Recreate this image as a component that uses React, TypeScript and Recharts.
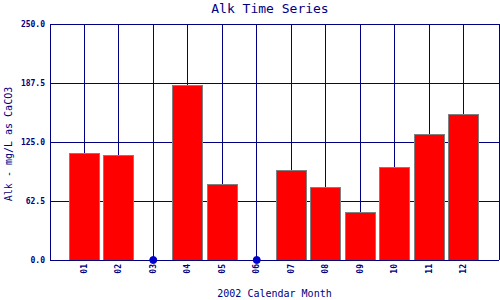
import React from "react";
import {
  ComposedChart,
  Bar,
  Line,
  XAxis,
  YAxis,
  CartesianGrid,
  Label,
} from "recharts";

const months = ["01", "02", "03", "04", "05", "06", "07", "08", "09", "10", "11", "12"];
// null = no sample that month (plotted as a dot on the zero line)
const alk = [113, 111, null, 185, 80, null, 94.3, 77, 50.5, 97.5, 133, 154.3];
const yTicks = [0, 62.5, 125, 187.5, 250];

const NAVY = "#000080";
const FONT = "'DejaVu Sans Mono', 'Liberation Mono', monospace";

const data = months.map((m, i) => ({
  month: m,
  alk: alk[i],
  missing: alk[i] == null ? 0 : null,
}));

function MonthTick({ x, y, payload }: any) {
  const ty = y + 4;
  return (
    <text
      x={x}
      y={ty}
      transform={`rotate(-90 ${x} ${ty})`}
      textAnchor="end"
      dominantBaseline="central"
      fontSize={8}
      fontWeight="bold"
      fontFamily={FONT}
      fill={NAVY}
    >
      {payload.value}
    </text>
  );
}

export default function App() {
  return (
    <div style={{ position: "absolute", left: 0, top: 0, width: 500, height: 300, background: "#fff" }}>
      <style>{`.crisp line, .crisp path, .crisp rect { shape-rendering: crispEdges; }`}</style>
      <div
        style={{
          position: "absolute",
          left: 0,
          top: 0,
          width: 540,
          textAlign: "center",
          fontFamily: FONT,
          fontSize: 13,
          lineHeight: "17px",
          color: NAVY,
        }}
      >
        Alk Time Series
      </div>
      <ComposedChart
        className="crisp"
        width={500}
        height={300}
        data={data}
        margin={{ top: 24, right: 1, bottom: 0, left: 0 }}
      >
        <CartesianGrid stroke={NAVY} strokeWidth={1} />
        <XAxis
          dataKey="month"
          height={40}
          padding={{ left: 17, right: 18 }}
          tickLine={false}
          tickSize={0}
          tickMargin={0}
          axisLine={{ stroke: NAVY }}
          tick={<MonthTick />}
          interval={0}
        >
          <Label
            value="2002 Calendar Month"
            position="insideBottom"
            offset={3}
            fontSize={10}
            fontFamily={FONT}
            fill={NAVY}
          />
        </XAxis>
        <YAxis
          width={50}
          domain={[0, 250]}
          ticks={yTicks}
          tickLine={false}
          tickSize={0}
          tickMargin={5}
          axisLine={{ stroke: NAVY }}
          tickFormatter={(v: number) => v.toFixed(1)}
          tick={{ fontSize: 8, fontWeight: "bold", fontFamily: FONT, fill: NAVY }}
        >
          <Label
            content={() => (
              <text
                x={8}
                y={144}
                transform="rotate(-90 8 144)"
                textAnchor="middle"
                dominantBaseline="central"
                fontSize={10}
                fontFamily={FONT}
                fill={NAVY}
              >
                Alk - mg/L as CaCO3
              </text>
            )}
          />
        </YAxis>
        <YAxis
          yAxisId="r"
          orientation="right"
          width={0}
          domain={[0, 250]}
          tick={false}
          tickLine={false}
          axisLine={{ stroke: NAVY }}
        />
        <Bar
          dataKey="alk"
          barSize={30}
          fill="#ff0000"
          stroke="#808080"
          strokeWidth={1}
          isAnimationActive={false}
        />
        <Line
          dataKey="missing"
          stroke="none"
          dot={{ r: 3.5, fill: "#0000cc", stroke: "#0000cc", strokeWidth: 1 }}
          activeDot={false}
          isAnimationActive={false}
        />
      </ComposedChart>
    </div>
  );
}
